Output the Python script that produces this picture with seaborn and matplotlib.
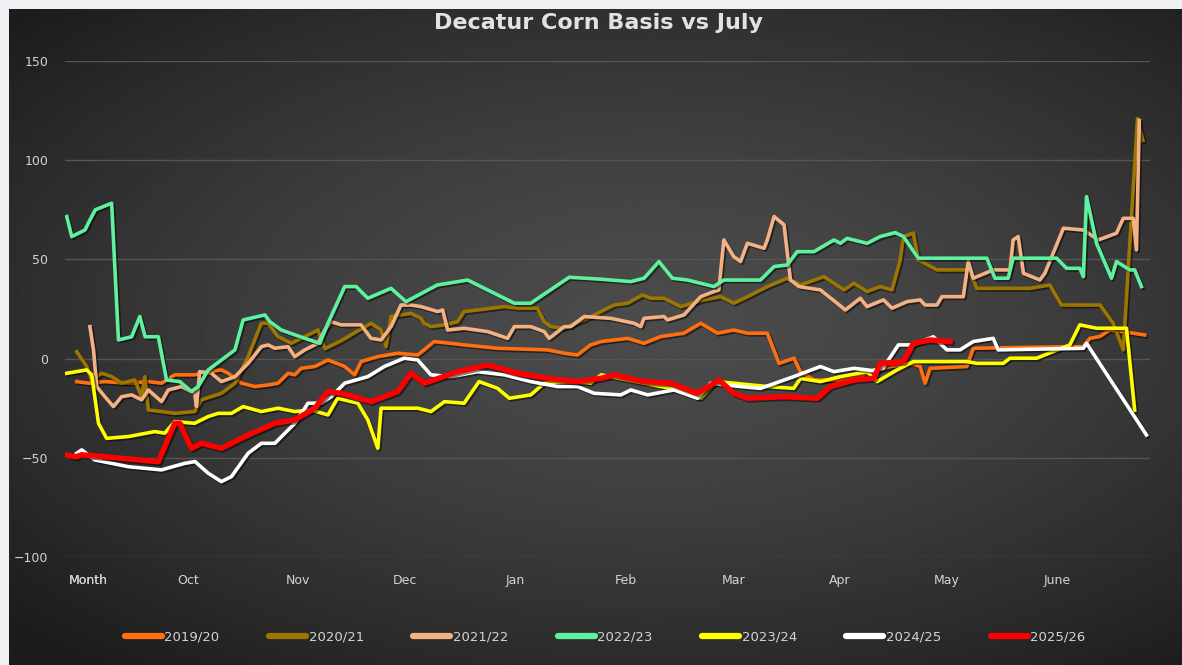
import numpy as np
import pandas as pd
import matplotlib
matplotlib.use("Agg")
import matplotlib.pyplot as plt
import matplotlib.patheffects as pe
from matplotlib.lines import Line2D
import seaborn as sns

# days counted from the start of the marketing year (early Sept)
seasons = ["2019/20", "2020/21", "2021/22", "2022/23", "2023/24", "2024/25", "2025/26"]
month_labels = ["Sept", "Month", "Oct", "Nov", "Dec", "Jan", "Feb", "Mar", "Apr", "May", "June"]
month_days = [6, 6, 34, 65, 95, 126, 157, 187, 217, 247, 278]
y_ticks = [-100, -50, 0, 50, 100, 150]

basis_1920 = [(2.8, -11.6), (6.1, -12.4), (10.7, -11.6), (17.3, -12.4), (22.9, -11.6), (26.6, -12.4),
              (30.3, -8.2), (35.9, -8.2), (39.7, -6.6), (43.4, -5.7), (45.3, -7.4), (49, -12.4),
              (52.8, -14.1), (56.5, -13.3), (59.3, -12.4), (62.1, -7.4), (64, -8.2), (65.8, -4.9),
              (69.6, -4), (73.3, -0.7), (78, -4), (80.8, -8.2), (82.6, -1.5), (87.3, 1), (92.9, 2.7),
              (98.5, 1.8), (100.3, 4.4), (103.1, 8.6), (111.5, 6.9), (120.9, 5.2), (134.9, 4.4),
              (139.6, 2.7), (143.3, 1.8), (147, 6.9), (150, 8.6), (157.4, 10.2), (162, 7.7),
              (166.7, 11.1), (173.2, 12.8), (177.9, 17.8), (182.6, 12.8), (187.2, 14.4), (191, 12.8),
              (196.6, 12.8), (199.9, -2.4), (204.1, 0.2), (205.9, -6.6), (209.7, -10.8), (217.1, -10.8),
              (220.9, -9.9), (225, -7), (231.1, -4), (236.7, -2.4), (239.5, -4), (240.9, -12.4),
              (242.3, -4.9), (252.6, -4), (254.4, 5.2), (280.6, 6), (285.3, 6), (287.1, 10.2),
              (289.9, 11.1), (292.7, 14.4), (299.3, 12.8), (302.5, 11.9)]

basis_2021 = [(2.8, 3.5), (5.6, -4), (7, -10.8), (9.8, -7.4), (12.6, -9.1), (15.4, -12.4), (19.1, -10.8),
              (21, -19.2), (21.9, -9.1), (22.9, -25.9), (26.6, -26.7), (30.3, -27.6), (35.9, -26.7),
              (37.8, -20.8), (43.4, -17.5), (47.2, -12.4), (50.9, 1), (54.6, 17.8), (56.5, 17.8),
              (59.3, 11.1), (63, 7.7), (66.8, 11.1), (70.5, 14.4), (72.5, 5), (77, 9), (81.7, 14),
              (85.4, 17.8), (88.2, 14.4), (89.6, 6), (91, 21.2), (96.6, 22.8), (99.4, 20.3),
              (100.3, 17.8), (102.2, 16.1), (106, 17), (109.7, 18.6), (111.5, 23.7), (115.3, 24.5),
              (122.8, 26.2), (126.5, 25.4), (132.1, 25.4), (134, 18.6), (135.8, 16.1), (139.6, 15.3),
              (145.2, 19.5), (148.9, 22.8), (153.6, 27), (157.4, 27.9), (161.6, 32.1), (163.9, 30.4),
              (167.6, 30.4), (172.3, 26.2), (178.8, 29.6), (183.5, 31.2), (187.2, 27.9), (191, 31.2),
              (196.6, 36.3), (202.2, 40.5), (205.9, 37.1), (212.5, 41.3), (218.1, 34.6), (220.9, 38),
              (224.6, 33.8), (228.3, 36.3), (231.6, 34.6), (233.9, 49.7), (234.8, 61.5), (237.6, 63.2),
              (239, 49.7), (244.2, 44.7), (253.5, 44.7), (255.4, 35.4), (270.3, 35.4), (275.9, 37.1),
              (279.2, 27), (290, 27), (293.7, 17.8), (296.5, 4.4), (300.5, 121), (302, 110)]

basis_2122 = [(6.5, 16.1), (7.5, 4.4), (8.4, -14.1), (10.7, -19.2), (13.1, -24.2), (15.4, -19.2),
              (18.2, -18.3), (21, -20.8), (22.9, -15.8), (26.6, -21.7), (28.5, -15.8), (32.2, -14.1),
              (35.9, -17.5), (36.4, -24.2), (37.3, -6.6), (40.6, -7.4), (43.4, -11.6), (47.2, -9.1),
              (50.9, -2.4), (54.6, 6), (56.5, 6.9), (58.4, 5.2), (62.1, 6), (64, 1), (66.8, 4.4),
              (70.5, 7.7), (72.4, 14.4), (74.2, 18.6), (77, 17), (82.6, 17), (85.4, 10.2), (88.2, 9.4),
              (91, 16.1), (93.8, 27), (96.6, 27), (99.4, 26.2), (104.1, 23.7), (105.5, 24.5),
              (106.9, 14.4), (111.5, 15.3), (118.1, 13.6), (123.7, 10.2), (125.6, 16.1), (130.2, 16.1),
              (134, 13.6), (135.4, 10.2), (139.6, 16.1), (141.4, 16.1), (145.2, 21.2), (152.6, 20.3),
              (159.2, 17.8), (161.1, 16.1), (162, 20.3), (167.6, 21.2), (168.6, 19.5), (173.2, 22),
              (177.9, 31.2), (181.6, 33.8), (183, 34.6), (184.4, 59.8), (187.2, 51.4), (189.1, 48.9),
              (191, 58.1), (195.7, 55.6), (196.6, 59.8), (198.5, 71.6), (201.3, 67.4), (203.1, 39.6),
              (205.5, 36.3), (211.5, 34.6), (216.2, 27.9), (218.5, 24.5), (222.7, 30.4), (224.6, 26.2),
              (229.2, 29.6), (231.6, 25.4), (235.8, 28.7), (239.5, 29.6), (240.9, 27), (244.2, 27),
              (245.6, 31.2), (251.6, 31.2), (253, 48.9), (254.4, 40.5), (260, 44.7), (264.7, 44.7),
              (265.6, 59.8), (267, 61.5), (268.5, 43), (273.1, 39.6), (274.5, 43), (279.7, 65.7),
              (285.3, 64.8), (289.5, 59.8), (294.6, 63.2), (296.5, 70.7), (299.3, 70.7), (300.2, 54.8),
              (301, 120)]

basis_2223 = [(0, 71.6), (1.4, 61.5), (5.1, 64.8), (6.5, 69.9), (8, 75), (12.6, 78.3), (14.5, 9.4),
              (18.2, 11), (20.5, 21.2), (22, 11), (25.7, 11), (28, -10.8), (31.7, -11.6), (35, -16.6),
              (36.9, -14), (39.7, -5.7), (47.2, 4.4), (49.5, 19.5), (55.6, 22), (57, 18.6), (60.2, 14.4),
              (66.8, 10.2), (71, 7.7), (73.3, 17.8), (78, 36.3), (81.2, 36.3), (84.5, 30.4), (91, 35.4),
              (95.2, 28.7), (104, 37.1), (112.5, 39.6), (125.6, 27.9), (130.2, 27.9), (141, 41),
              (150, 40), (158.3, 38.8), (162, 40.5), (166.2, 48.9), (170, 40.5), (174.2, 39.6),
              (181.6, 36.3), (184.4, 39.6), (194.7, 39.6), (198.5, 46.4), (202.2, 47.2), (205, 53.9),
              (209.7, 53.9), (215.3, 59.8), (217.1, 58.1), (219, 60.6), (224.6, 58.1), (228.3, 61.5),
              (232.5, 63.5), (234.8, 61.5), (239, 50.6), (258.2, 50.6), (260.5, 40.5), (264.2, 40.5),
              (265.6, 50.6), (277.8, 50.6), (280.6, 45.5), (284.3, 45.5), (285.3, 41.3), (286.2, 81.6),
              (289, 58.1), (293.2, 40.5), (294.6, 48.9), (298.3, 44.7), (299.7, 44.7), (301.6, 36.3)]

basis_2324 = [(0, -7.4), (5.6, -5.7), (7, -8.2), (8.9, -32.6), (11.2, -40.2), (17.3, -39.3),
              (24.7, -36.8), (27.5, -37.6), (30.3, -31.8), (35.9, -32.6), (39.7, -29.2), (42.5, -27.6),
              (46.2, -27.6), (49.5, -24.2), (54.6, -26.7), (59.3, -25), (64, -26.7), (68.6, -25.9),
              (73.3, -28.4), (76, -20), (81.7, -22.5), (84.5, -30.9), (87.3, -45.2), (88.2, -25),
              (98.5, -25), (102.2, -26.7), (106, -21.7), (111.5, -22.5), (115.7, -11.6), (120.9, -15),
              (124.2, -20), (130.2, -18.3), (134, -12.4), (141.4, -11.6), (147, -12.4), (150, -8.2),
              (157.4, -10.8), (166.7, -14.1), (172.3, -15.8), (177.9, -20), (182.1, -11.6),
              (187.2, -12.4), (196.6, -14.1), (204, -15), (205.9, -10), (211.5, -11.6), (217.1, -9.1),
              (224.6, -6.6), (227.4, -11.6), (233, -5.7), (237.6, -1.5), (252.6, -1.5), (255.4, -2.4),
              (262.8, -2.4), (264.7, 0.2), (272.2, 0.2), (281.5, 6.9), (284.3, 17), (289, 15.3),
              (297.4, 15.3), (299.7, -26)]

basis_2425 = [(2.8, -47.7), (4.2, -46), (7.9, -51.1), (17.3, -54.5), (26.6, -56.1), (33.1, -52.8),
              (36, -51.9), (39.7, -57.8), (43.4, -62), (46.2, -59.5), (50.9, -47.7), (54.6, -42.7),
              (58.4, -42.7), (64, -32.6), (67.7, -22.5), (71.4, -22.5), (74.2, -19.2), (78, -12.4),
              (84.5, -9.1), (89.1, -4), (94.7, 0.2), (98.5, -0.7), (102.2, -8.2), (107.8, -9.1),
              (115.3, -6.6), (122.8, -8.2), (130.2, -11.6), (137.7, -14.1), (143.3, -14.1), (148, -17.5),
              (155.5, -18.3), (158.3, -15.8), (163, -18.3), (170.4, -15.8), (177, -20), (180.7, -12.4),
              (189.1, -14.1), (194.7, -15), (204, -9.1), (211.5, -4), (215.3, -6.6), (220.9, -4.9),
              (226, -6), (229, -5), (233.4, 6.9), (237.6, 6.9), (243.2, 11), (247, 4.4), (250.7, 4.4),
              (254.4, 8.6), (260, 10.2), (261.4, 4.4), (285.3, 5.2), (286.2, 7.7), (303, -38.5)]

basis_2526 = [(0, -48.6), (2.5, -49.5), (4.2, -48.5), (7.9, -49), (25.7, -52), (30.3, -32.6),
              (31.7, -32.6), (35, -45.2), (37.8, -42.7), (43.4, -45.2), (50.9, -38.5), (58.4, -32.6),
              (64, -30.9), (69.6, -25), (73.3, -16.6), (77, -17.5), (85.4, -21.7), (92.9, -16.6),
              (96.6, -7.4), (100.3, -12.4), (109.7, -6.6), (118.1, -3.2), (126.5, -7.4), (134.9, -9.9),
              (143.3, -11.6), (150, -9.9), (153.6, -8.2), (162, -11.6), (169.5, -12.4), (177, -17.5),
              (183, -10.8), (187.2, -17.5), (191, -20), (201.3, -19.2), (210.6, -20), (214.3, -14.1),
              (220.9, -10.8), (226.5, -9.9), (228.3, -2.4), (234.8, -1.5), (237.6, 7.7), (242.3, 9.4),
              (247.9, 8.6)]

series = dict(zip(seasons, [basis_1920, basis_2021, basis_2122, basis_2223,
                            basis_2324, basis_2425, basis_2526]))

colors = ["#ff6f0f", "#9c7600", "#f4b183", "#5ef2a0", "#ffff00", "#ffffff", "#ff0000"]
widths = [2.6, 2.6, 2.6, 2.6, 2.6, 2.6, 3.9]

W, H = 1182, 665
fig = plt.figure(figsize=(W / 100, H / 100), dpi=100, facecolor="#eef0f4")

# dark radial background panel
bg = fig.add_axes([9 / W, 0, 1 - 9 / W, (H - 9) / H], zorder=0)
gx, gy = np.meshgrid(np.linspace(-1, 1, 600), np.linspace(-1, 1, 340))
r = np.sqrt(((gx - 0.1) / 1.15) ** 2 + ((gy + 0.05) / 1.05) ** 2)
shade = 0.295 - 0.125 * np.clip(r, 0, 1.3) ** 1.5
bg.imshow(shade, cmap="gray", vmin=0, vmax=1, aspect="auto", interpolation="bilinear")
bg.axis("off")

ax = fig.add_axes([65 / W, 108 / H, 1085 / W, 496 / H], zorder=1)
ax.patch.set_alpha(0)

shadow = [pe.SimpleLineShadow(offset=(1.2, -1.2), shadow_color="black", alpha=0.5), pe.Normal()]
for (season, pts), c, lw in zip(series.items(), colors, widths):
    d = pd.DataFrame(pts, columns=["day", "basis"])
    sns.lineplot(data=d, x="day", y="basis", color=c, lw=lw, ax=ax,
                 sort=False, estimator=None, legend=False)
for line in ax.lines:
    line.set_path_effects(shadow)
    line.set_solid_joinstyle("round")

ax.set_xlim(-0.5, 304)
ax.set_ylim(-100, 150)
ax.set_yticks(y_ticks)
ax.set_xticks(month_days, labels=month_labels)
ax.grid(axis="y", color="#555555", lw=1)
ax.grid(axis="x", visible=False)
ax.set_axisbelow(True)
for s in ax.spines.values():
    s.set_visible(False)
ax.tick_params(axis="both", length=0, colors="#d4d4d4", labelsize=9)
ax.tick_params(axis="y", pad=12)
ax.tick_params(axis="x", pad=12)
ax.set_xlabel("")
ax.set_ylabel("")

fig.text(0.506, 0.966, "Decatur Corn Basis vs July", ha="center", va="center",
         fontsize=16, fontweight="bold", color="#e2e2e2")

handles = [Line2D([], [], color=c, lw=4.5, solid_capstyle="round") for c in colors]
leg = fig.legend(handles, seasons, loc="center", bbox_to_anchor=(0.512, 0.042), ncol=7,
                 frameon=False, fontsize=9.5, handlelength=2.8, handletextpad=0.2,
                 columnspacing=3.75)
for t in leg.get_texts():
    t.set_color("#d4d4d4")

fig.savefig("out.png", dpi=100, facecolor=fig.get_facecolor())
